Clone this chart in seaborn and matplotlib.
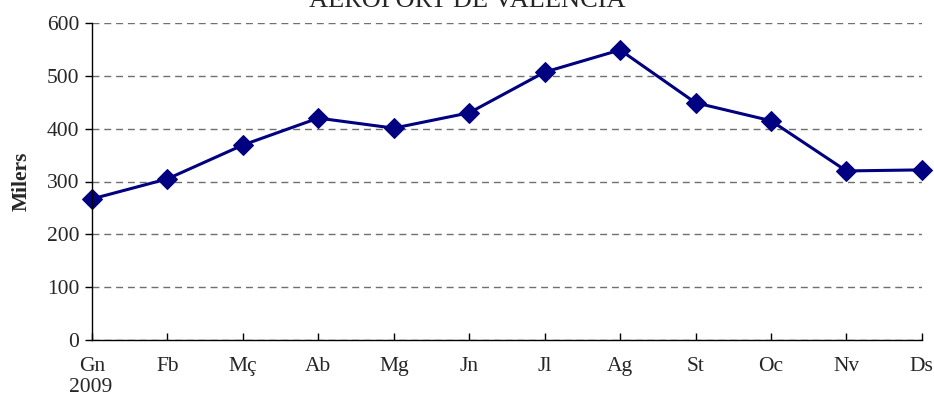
import matplotlib
matplotlib.use('Agg')
import matplotlib.pyplot as plt
import seaborn as sns
import pandas as pd

# Monthly passengers (thousands), Valencia airport 2009
months = ['Gn', 'Fb', 'Mç', 'Ab', 'Mg', 'Jn', 'Jl', 'Ag', 'St', 'Oc', 'Nv', 'Ds']
passengers = [267, 305, 369, 420, 401, 430, 507, 549, 449, 415, 320, 322]

df = pd.DataFrame({'pos': range(len(months)), 'Milers': passengers})

sns.set_style('white')
plt.rcParams['font.family'] = ['Liberation Serif', 'DejaVu Serif']

fig = plt.figure(figsize=(9.34, 4), dpi=100)
ax = fig.add_axes([0.0985, 0.15, 0.8885, 0.7925])

sns.lineplot(data=df, x='pos', y='Milers', ax=ax, color='#000080', linewidth=2.2,
             marker='D', markersize=10.5, markeredgecolor='#000080', clip_on=False)

ax.set_xlim(0, len(months) - 1)
ax.set_ylim(0, 600)
ax.set_yticks(range(0, 601, 100))
ax.set_xticks(range(len(months)))
ax.set_xticklabels(months)

# dashed horizontal gridlines
ax.yaxis.grid(True, linestyle=(0, (5, 3.5)), color='#707070', linewidth=1)
ax.xaxis.grid(False)

for s in ['top', 'right']:
    ax.spines[s].set_visible(False)
for s in ['left', 'bottom']:
    ax.spines[s].set_color('black')
    ax.spines[s].set_linewidth(1)

ax.tick_params(axis='y', direction='out', length=5, width=1, color='black',
               labelsize=15.5, left=True, pad=4)
ax.tick_params(axis='x', direction='in', length=5, width=1, color='black',
               labelsize=15.5, bottom=True, pad=12)

ax.set_xlabel('')
ax.set_ylabel('Milers', fontsize=15.5, fontweight='bold', labelpad=11)

fig.text(0.0965, 0.03, '2009', fontsize=15.5, ha='center', va='center')
# title sits partly above the top edge, as in the original
fig.text(0.5, 0.9825, 'AEROPORT DE VALÈNCIA', fontsize=19, ha='center', va='baseline')

fig.savefig('out.png', dpi=100)
